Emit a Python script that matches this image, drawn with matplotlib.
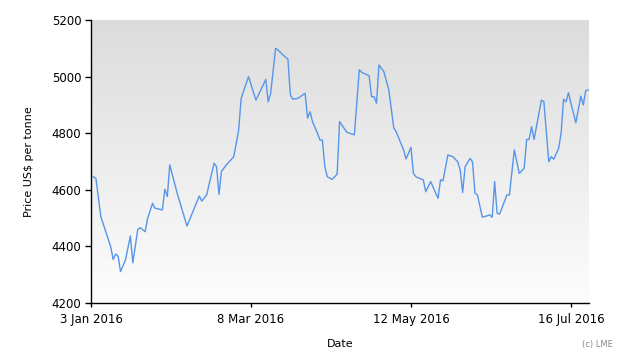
import numpy as np
import pandas as pd
import matplotlib
matplotlib.use("Agg")
import matplotlib.pyplot as plt

# LME price (US$ per tonne)
dates = [
    "2016-01-04", "2016-01-05", "2016-01-07", "2016-01-11", "2016-01-12", "2016-01-13",
    "2016-01-14", "2016-01-15", "2016-01-17", "2016-01-19", "2016-01-20", "2016-01-22",
    "2016-01-23", "2016-01-25", "2016-01-26", "2016-01-28", "2016-01-29", "2016-02-01",
    "2016-02-02", "2016-02-03", "2016-02-04", "2016-02-07", "2016-02-11", "2016-02-16",
    "2016-02-17", "2016-02-19", "2016-02-22", "2016-02-23", "2016-02-24", "2016-02-25",
    "2016-02-27", "2016-03-01", "2016-03-03", "2016-03-04", "2016-03-07", "2016-03-10",
    "2016-03-12", "2016-03-14", "2016-03-15", "2016-03-16", "2016-03-18", "2016-03-19",
    "2016-03-21", "2016-03-23", "2016-03-24", "2016-03-25", "2016-03-27", "2016-03-30",
    "2016-03-31", "2016-04-01", "2016-04-02", "2016-04-04", "2016-04-05", "2016-04-06",
    "2016-04-07", "2016-04-08", "2016-04-10", "2016-04-12", "2016-04-13", "2016-04-15",
    "2016-04-16", "2016-04-19", "2016-04-21", "2016-04-22", "2016-04-25", "2016-04-26",
    "2016-04-27", "2016-04-28", "2016-04-29", "2016-05-01", "2016-05-03", "2016-05-05",
    "2016-05-06", "2016-05-09", "2016-05-10", "2016-05-12", "2016-05-13", "2016-05-14",
    "2016-05-17", "2016-05-18", "2016-05-20", "2016-05-23", "2016-05-24", "2016-05-25",
    "2016-05-27", "2016-05-29", "2016-05-31", "2016-06-01", "2016-06-02", "2016-06-03",
    "2016-06-05", "2016-06-06", "2016-06-07", "2016-06-08", "2016-06-10", "2016-06-13",
    "2016-06-14", "2016-06-15", "2016-06-16", "2016-06-17", "2016-06-20", "2016-06-21",
    "2016-06-23", "2016-06-25", "2016-06-27", "2016-06-28", "2016-06-29", "2016-06-30",
    "2016-07-01", "2016-07-04", "2016-07-05", "2016-07-07", "2016-07-08", "2016-07-09",
    "2016-07-11", "2016-07-12", "2016-07-13", "2016-07-14", "2016-07-15", "2016-07-16",
    "2016-07-18", "2016-07-20", "2016-07-21", "2016-07-22", "2016-07-23",
]
prices = [
    4646, 4640, 4505, 4399, 4354, 4373,
    4366, 4311, 4352, 4437, 4342, 4460,
    4466, 4452, 4499, 4552, 4535, 4529,
    4602, 4576, 4688, 4588, 4472, 4578,
    4560, 4582, 4694, 4682, 4584, 4665,
    4688, 4717, 4811, 4923, 5000, 4917,
    4953, 4990, 4911, 4941, 5100, 5094,
    5076, 5062, 4935, 4920, 4923, 4941,
    4853, 4876, 4841, 4800, 4776, 4776,
    4682, 4646, 4637, 4655, 4841, 4815,
    4803, 4794, 5024, 5015, 5003, 4929,
    4929, 4906, 5041, 5017, 4953, 4819,
    4805, 4741, 4709, 4750, 4658, 4646,
    4635, 4593, 4629, 4570, 4635, 4632,
    4723, 4717, 4699, 4670, 4590, 4682,
    4711, 4699, 4588, 4582, 4503, 4511,
    4503, 4629, 4517, 4514, 4582, 4582,
    4741, 4658, 4676, 4778, 4778, 4823,
    4778, 4917, 4911, 4699, 4717, 4708,
    4747, 4800, 4920, 4911, 4943, 4906,
    4837, 4931, 4900, 4950, 4953,
]
tick_dates = ["2016-01-03", "2016-03-08", "2016-05-12", "2016-07-16"]
tick_labels = ["3 Jan 2016", "8 Mar 2016", "12 May 2016", "16 Jul 2016"]
y_ticks = [4200, 4400, 4600, 4800, 5000, 5200]

df = pd.DataFrame({"date": pd.to_datetime(dates), "price": prices})

fig = plt.figure(figsize=(6.3, 3.6), dpi=100)
ax = fig.add_axes([91/630, 1-303/360, 498/630, 283/360])

# grey-to-white gradient background
grad = np.linspace(0, 1, 256).reshape(-1, 1)
ax.imshow(grad, cmap=matplotlib.colors.LinearSegmentedColormap.from_list(
    "bg", ["#dcdcdc", "#fdfdfd"]), aspect="auto", extent=[0, 1, 0, 1],
    transform=ax.transAxes, zorder=0)

ax.plot(df["date"], df["price"], color="#5596ea", lw=1.0, zorder=2)

ax.set_xlim(pd.Timestamp("2016-01-03"), pd.Timestamp("2016-07-23 08:00"))
ax.set_ylim(4200, 5200)
ax.set_xticks(pd.to_datetime(tick_dates))
ax.set_xticklabels(tick_labels)
ax.set_yticks(y_ticks)

for s in ["top", "right"]:
    ax.spines[s].set_visible(False)
for s in ["left", "bottom"]:
    ax.spines[s].set_color("black")
    ax.spines[s].set_linewidth(1.0)

ax.tick_params(axis="y", length=4, width=1, pad=3, labelsize=8.5)
ax.tick_params(axis="x", length=3, width=1, pad=4, labelsize=8.5)

ax.set_ylabel("Price US$ per tonne", fontsize=8)
ax.yaxis.set_label_coords(-0.114, 0.5)
ax.set_xlabel("Date", fontsize=8)
ax.xaxis.set_label_coords(0.5, -0.126)

fig.text(597/630, 1-345/360, "(c) LME", fontsize=6, color="#888888",
         ha="center", va="center")

fig.savefig("out.png", dpi=100)
